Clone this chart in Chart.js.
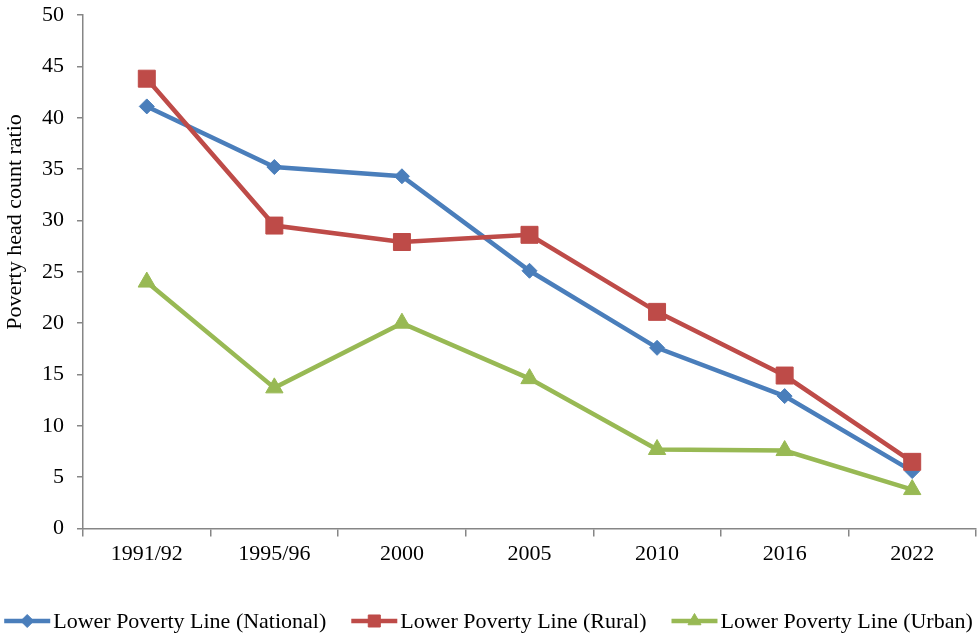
<!DOCTYPE html>
<html>
<head>
<meta charset="utf-8">
<title>Poverty head count ratio</title>
<script src="https://cdn.jsdelivr.net/npm/chart.js@4/dist/chart.umd.min.js"></script>
<style>
  html, body { margin: 0; padding: 0; background: #ffffff; overflow: hidden; }
  #wrap { width: 977px; height: 637px; position: relative; }
  #chart { display: block; }
</style>
</head>
<body>
<div id="wrap"><canvas id="chart"></canvas></div>
<script>
// Survey rounds
const categories = ['1991/92', '1995/96', '2000', '2005', '2010', '2016', '2022'];

// Poverty head count ratio (%) by lower poverty line
const nationalValues = [41.1, 35.2, 34.3, 25.1, 17.6, 12.9, 5.6];
const ruralValues    = [43.8, 29.5, 27.9, 28.6, 21.1, 14.9, 6.5];
const urbanValues    = [24.0, 13.7, 20.0, 14.6, 7.7, 7.6, 3.8];

const seriesLabels = [
  'Lower Poverty Line (National)',
  'Lower Poverty Line (Rural)',
  'Lower Poverty Line (Urban)'
];

const yAxisTitle = 'Poverty head count ratio';
const yTickStep = 5;
const yMax = 50;

const FONT_FAMILY = '"Liberation Serif", "Times New Roman", serif';
const FONT_SIZE = 22;
const AXIS_GREY = '#868686';

const BLUE = '#4A7EBB';
const RED = '#BE4B48';
const GREEN = '#98B954';

// Vertical axis title, drawn in the left margin
const yTitlePlugin = {
  id: 'yTitle',
  afterDraw(chart) {
    const { ctx, chartArea } = chart;
    ctx.save();
    ctx.font = FONT_SIZE + 'px ' + FONT_FAMILY;
    ctx.fillStyle = '#000';
    ctx.textAlign = 'center';
    ctx.textBaseline = 'middle';
    const cy = chartArea.top + (chartArea.bottom - chartArea.top) * 0.403;
    ctx.translate(15, cy);
    ctx.rotate(-Math.PI / 2);
    ctx.fillText(yAxisTitle, 0, 0);
    ctx.restore();
  }
};

// Legend row: a short line with the series marker, then the label
const lineLegendPlugin = {
  id: 'lineLegend',
  afterDraw(chart) {
    const { ctx } = chart;
    const sampleW = 46, textGap = 3, itemGap = 25;
    ctx.save();
    ctx.font = FONT_SIZE + 'px ' + FONT_FAMILY;
    const items = chart.data.datasets.map(ds => ({
      ds,
      w: sampleW + textGap + ctx.measureText(ds.label).width
    }));
    const total = items.reduce((s, it) => s + it.w, 0) + itemGap * (items.length - 1);
    let x = (chart.width - total) / 2;
    const y = chart.height - 16;
    items.forEach(({ ds, w }) => {
      ctx.strokeStyle = ds.borderColor;
      ctx.lineWidth = 4.5;
      ctx.beginPath();
      ctx.moveTo(x, y);
      ctx.lineTo(x + sampleW, y);
      ctx.stroke();
      ctx.fillStyle = ds.backgroundColor;
      ctx.strokeStyle = ds.backgroundColor;
      ctx.lineWidth = 1;
      Chart.helpers.drawPoint(ctx, {
        pointStyle: ds.pointStyle,
        radius: ds.legendRadius,
        rotation: 0,
        borderWidth: 1
      }, x + sampleW / 2, y);
      ctx.fillStyle = '#000';
      ctx.textAlign = 'left';
      ctx.textBaseline = 'middle';
      ctx.fillText(ds.label, x + sampleW + textGap, y + 1);
      x += w + itemGap;
    });
    ctx.restore();
  }
};

function series(label, data, color, style, radius, legendRadius, order) {
  return {
    label,
    data,
    borderColor: color,
    backgroundColor: color,
    borderWidth: 4.5,
    tension: 0,
    pointStyle: style,
    pointRadius: radius,
    pointHoverRadius: radius,
    pointBackgroundColor: color,
    pointBorderColor: color,
    pointBorderWidth: 1,
    legendRadius,
    order
  };
}

new Chart(document.getElementById('chart'), {
  type: 'line',
  data: {
    labels: categories,
    datasets: [
      series(seriesLabels[0], nationalValues, BLUE, 'rectRot', 7.5, 6.5, 3),
      series(seriesLabels[1], ruralValues, RED, 'rect', 12, 8.5, 2),
      series(seriesLabels[2], urbanValues, GREEN, 'triangle', 10, 7.5, 1)
    ]
  },
  options: {
    responsive: true,
    maintainAspectRatio: false,
    animation: false,
    layout: {
      autoPadding: false,
      padding: { left: 29, right: 1, top: 15, bottom: 66 }
    },
    plugins: {
      legend: { display: false },
      tooltip: { enabled: false },
      title: { display: false }
    },
    scales: {
      x: {
        offset: true,
        afterFit(scale) {
          scale.paddingLeft = 0;
          scale.paddingRight = 0;
        },
        grid: {
          offset: true,
          display: true,
          drawOnChartArea: false,
          drawTicks: true,
          tickLength: 8,
          color: AXIS_GREY,
          lineWidth: 1.5
        },
        border: { color: AXIS_GREY, width: 1.5 },
        ticks: {
          color: '#000',
          padding: 4,
          maxRotation: 0,
          autoSkip: false,
          font: { family: FONT_FAMILY, size: FONT_SIZE }
        }
      },
      y: {
        min: 0,
        max: yMax,
        afterFit(scale) {
          scale.paddingTop = 0;
          scale.paddingBottom = 0;
        },
        grid: {
          display: true,
          drawOnChartArea: false,
          drawTicks: true,
          tickLength: 6,
          color: AXIS_GREY,
          lineWidth: 1.5
        },
        border: { color: AXIS_GREY, width: 1.5 },
        ticks: {
          stepSize: yTickStep,
          color: '#000',
          padding: 13,
          font: { family: FONT_FAMILY, size: FONT_SIZE }
        }
      }
    }
  },
  plugins: [yTitlePlugin, lineLegendPlugin]
});
</script>
</body>
</html>
